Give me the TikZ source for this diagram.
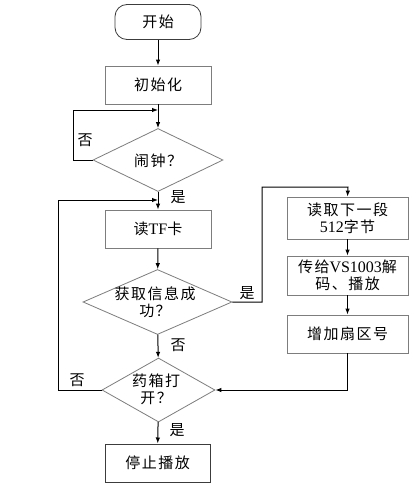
\documentclass[tikz,border=0pt]{standalone}
\usepackage{fontspec}
\newfontfamily\cjk[LetterSpace=10]{Noto Sans CJK SC}
\newfontfamily\lat{Liberation Serif}
\usetikzlibrary{shapes.geometric,arrows.meta}
\definecolor{edgegray}{RGB}{125,125,125}
\definecolor{darkedge}{RGB}{60,60,60}
\begin{document}
\begin{tikzpicture}[x=1pt,y=-1pt,
  base/.style={font=\cjk\fontsize{15}{17}\selectfont, inner sep=0pt, align=center},
  proc/.style={base, draw=edgegray, line width=0.8pt},
  startbox/.style={base, draw=darkedge, line width=0.8pt, rounded corners=12pt},
  stopbox/.style={base, draw=darkedge, line width=1pt},
  dec/.style={diamond, draw=edgegray, line width=0.8pt, inner sep=0pt},
  lab/.style={base},
  conn/.style={line width=1pt, -{Latex[length=6pt,width=4.5pt]}},
  plain/.style={line width=1pt}]
\useasboundingbox[fill=white] (0,0) rectangle (414,487);

\node[startbox, minimum width=86pt, minimum height=35pt] (start) at (158,22) {开始};
\node[proc, minimum width=106pt, minimum height=38pt] (init) at (158,85) {初始化};
\node[dec, minimum width=130pt, minimum height=63pt] (d1) at (158,160) {};
\node[base] (d1t) at (158,161) {闹钟？};
\node[proc, minimum width=106pt, minimum height=38pt] (tf) at (158,229) {读{\lat\fontsize{16}{17}\selectfont TF}卡};
\node[dec, minimum width=149pt, minimum height=65pt] (d2) at (157.5,302) {};
\node[base] (d2t) at (155,302) {获取信息成\\功？};
\node[dec, minimum width=113pt, minimum height=64pt] (d3) at (158.5,390) {};
\node[base] (d3t) at (156,389) {药箱打\\开？};
\node[stopbox, minimum width=105pt, minimum height=38pt] (stop) at (157.5,463) {停止播放};
\node[proc, minimum width=121pt, minimum height=42pt] (r1) at (347.5,218) {读取下一段\\{\lat\fontsize{16}{17}\selectfont 512}字节};
\node[proc, minimum width=121pt, minimum height=39pt] (r2) at (347.5,275.5) {传给{\lat\fontsize{16}{17}\selectfont VS1003}解\\码、播放};
\node[proc, minimum width=121pt, minimum height=38pt] (r3) at (347.5,334) {增加扇区号};

\coordinate (c1) at (158,110);
\coordinate (c2) at (348,187);
\coordinate (c3) at (158,200);

\draw[conn] (start) -- (init);
\draw[conn] (init) -- (d1);
\draw[conn] (d1.west) -- (73,160) |- (c1);
\draw[conn] (d1) -- (tf);
\draw[conn] (tf) -- (d2);
\draw[conn] (d2.east) -- (262,302) |- (c2) -- (r1.north);
\draw[conn] (r1) -- (r2);
\draw[conn] (r2) -- (r3);
\draw[conn] (r3.south) |- (d3.east);
\draw[conn] (d2) -- (d3);
\draw[conn] (d3.west) -- (58,390) |- (c3);
\draw[conn] (d3) -- (stop);

\node[lab] (l1) at (85,140) {否};
\node[lab] (l2) at (178,197) {是};
\node[lab] (l3) at (247,293) {是};
\node[lab] (l4) at (178,345) {否};
\node[lab] (l5) at (77,380) {否};
\node[lab] (l6) at (177,430) {是};
\end{tikzpicture}
\end{document}
